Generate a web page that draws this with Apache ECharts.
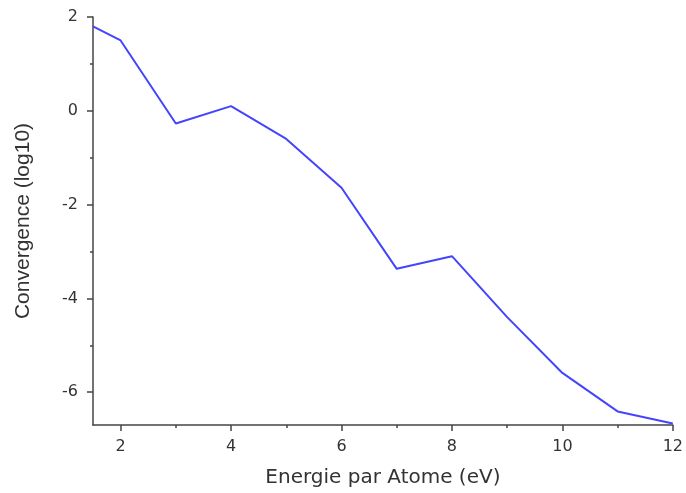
<!DOCTYPE html>
<html>
<head>
<meta charset="utf-8">
<script src="https://cdn.jsdelivr.net/npm/echarts@6/dist/echarts.min.js"></script>
<style>
  html, body { margin: 0; padding: 0; background: #fff; }
  #chart { width: 686px; height: 493px; }
</style>
</head>
<body>
<div id="chart"></div>
<script>
// energie par atome (eV) vs convergence (log10)
const energie = [1.5, 2, 3, 4, 5, 6, 7, 8, 9, 10, 11, 12]
const convergence = [1.8, 1.5, -0.27, 0.1, -0.6, -1.64, -3.37, -3.1, -4.4, -5.59, -6.41, -6.67]
const xMajor = [2, 4, 6, 8, 10, 12]
const xMinor = [3, 5, 7, 9, 11]
const yMajor = [-6, -4, -2, 0, 2]
const yMinor = [-5, -3, -1, 1]

const axisColor = '#444'
const textColor = '#333'

const chart = echarts.init(document.getElementById('chart'))

const baseX = {
  type: 'value',
  min: 1.5,
  max: 12,
  splitLine: { show: false }
}
const baseY = {
  type: 'value',
  min: -6.7,
  max: 2,
  splitLine: { show: false }
}

chart.setOption({
  animation: false,
  grid: { left: 93, right: 13, top: 17, bottom: 66 },
  xAxis: [
    Object.assign({}, baseX, {
      name: 'Energie par Atome (eV)',
      nameLocation: 'middle',
      nameGap: 43,
      nameTextStyle: { fontFamily: 'DejaVu Sans', fontSize: 20, color: textColor },
      axisLine: { show: true, onZero: false, lineStyle: { color: axisColor, width: 1.5 } },
      axisTick: { show: true, length: 6, customValues: xMajor, lineStyle: { color: axisColor, width: 1.5 } },
      axisLabel: { customValues: xMajor, margin: 14, fontFamily: 'DejaVu Sans', fontSize: 16, color: textColor }
    }),
    Object.assign({}, baseX, {
      position: 'bottom',
      axisLine: { show: false, onZero: false },
      axisTick: { show: true, length: 3, customValues: xMinor, lineStyle: { color: axisColor, width: 1.5 } },
      axisLabel: { show: false }
    })
  ],
  yAxis: [
    Object.assign({}, baseY, {
      name: 'Convergence (log10)',
      nameLocation: 'middle',
      nameGap: 59,
      nameTextStyle: { fontFamily: 'Liberation Sans', fontSize: 21, color: textColor },
      axisLine: { show: true, onZero: false, lineStyle: { color: axisColor, width: 1.5 } },
      axisTick: { show: true, length: 6, customValues: yMajor, lineStyle: { color: axisColor, width: 1.5 } },
      axisLabel: { customValues: yMajor, margin: 15, fontFamily: 'DejaVu Sans', fontSize: 16, color: textColor }
    }),
    Object.assign({}, baseY, {
      position: 'left',
      axisLine: { show: false, onZero: false },
      axisTick: { show: true, length: 3, customValues: yMinor, lineStyle: { color: axisColor, width: 1.5 } },
      axisLabel: { show: false }
    })
  ],
  series: [
    {
      type: 'line',
      xAxisIndex: 0,
      yAxisIndex: 0,
      data: energie.map((x, i) => [x, convergence[i]]),
      showSymbol: false,
      lineStyle: { color: '#4444ff', width: 2 }
    }
  ]
})
</script>
</body>
</html>
